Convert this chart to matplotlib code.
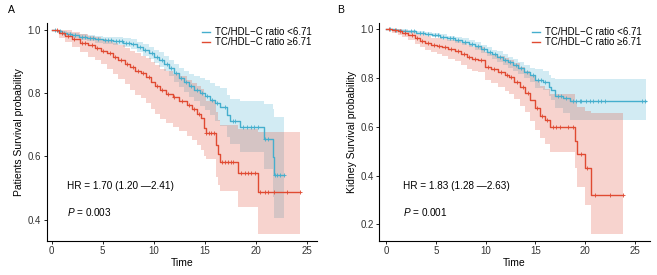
import numpy as np
import matplotlib.pyplot as plt

plt.rcParams['font.family'] = ['Liberation Sans', 'DejaVu Sans']
plt.rcParams['mathtext.fontset'] = 'custom'
plt.rcParams['mathtext.rm'] = 'Liberation Sans'
plt.rcParams['mathtext.it'] = 'Liberation Sans:italic'

BLUE = '#45AECD'
RED = '#E04A32'
LABELS = ('TC/HDL\u2212C ratio <6.71', 'TC/HDL\u2212C ratio \u22656.71')

# ---- panel A, ratio < 6.71 ----
a_low_t = [0, 0.5, 1.0, 1.5, 2.0, 2.7, 3.5, 4.3, 5.0, 6.0, 7.0, 7.8, 8.4, 9.0, 9.5, 10.0, 10.5, 11.0,
           11.5, 12.0, 12.5, 13.0, 13.5, 14.0, 14.5, 15.0, 15.5, 16.0, 16.5, 17.2, 17.5, 18.5, 20.8, 21.7, 21.8]
a_low_s = [1.0, 0.995, 0.99, 0.986, 0.982, 0.977, 0.973, 0.969, 0.966, 0.963, 0.959, 0.954, 0.946, 0.936,
           0.926, 0.915, 0.905, 0.892, 0.878, 0.862, 0.848, 0.835, 0.822, 0.81, 0.80, 0.79, 0.778, 0.767,
           0.757, 0.73, 0.71, 0.692, 0.655, 0.598, 0.542]
a_low_lo = [1.0, 0.99, 0.984, 0.979, 0.974, 0.968, 0.963, 0.958, 0.954, 0.95, 0.945, 0.939, 0.93, 0.918,
            0.907, 0.895, 0.883, 0.868, 0.852, 0.834, 0.818, 0.803, 0.788, 0.774, 0.76, 0.745, 0.73, 0.71,
            0.695, 0.66, 0.64, 0.614, 0.56, 0.47, 0.405]
a_low_up = [1.0, 1.0, 0.996, 0.993, 0.99, 0.986, 0.983, 0.98, 0.978, 0.976, 0.973, 0.969, 0.962, 0.954,
            0.946, 0.936, 0.928, 0.917, 0.905, 0.891, 0.879, 0.868, 0.86, 0.855, 0.848, 0.84, 0.83, 0.822,
            0.815, 0.795, 0.78, 0.775, 0.765, 0.75, 0.725]
a_low_end = 22.8
a_low_cens = [0.3, 0.8, 1.2, 1.8, 2.3, 3.0, 3.3, 3.8, 4.1, 4.6, 5.2, 5.5, 5.8, 6.3, 6.6, 6.9, 7.3, 7.6,
              8.0, 8.7, 9.2, 9.8, 10.3, 10.8, 11.3, 11.7, 12.2, 12.7, 13.2, 13.7, 14.2, 14.7, 15.2, 15.7,
              16.2, 17.0, 17.8, 18.0, 18.8, 19.1, 19.5, 19.8, 20.2, 20.95, 21.2, 21.9, 22.1, 22.4, 22.8]

# ---- panel A, ratio >= 6.71 ----
a_high_t = [0, 0.7, 1.3, 2.0, 2.8, 3.6, 4.3, 4.8, 5.4, 6.0, 6.5, 7.2, 7.7, 8.2, 8.8, 9.3, 9.7, 10.1,
            10.6, 11.2, 11.9, 12.5, 13.3, 13.8, 14.2, 14.6, 14.9, 15.1, 16.1, 16.3, 16.5, 18.3, 20.2]
a_high_s = [1.0, 0.99, 0.981, 0.97, 0.958, 0.95, 0.943, 0.934, 0.925, 0.915, 0.905, 0.893, 0.881, 0.87,
            0.862, 0.85, 0.835, 0.822, 0.808, 0.797, 0.787, 0.775, 0.761, 0.748, 0.734, 0.72, 0.69, 0.673,
            0.635, 0.606, 0.581, 0.547, 0.488]
a_high_lo = [1.0, 0.975, 0.96, 0.945, 0.928, 0.915, 0.903, 0.89, 0.875, 0.86, 0.845, 0.828, 0.81, 0.795,
             0.783, 0.768, 0.75, 0.735, 0.718, 0.705, 0.693, 0.68, 0.664, 0.65, 0.635, 0.62, 0.6, 0.59,
             0.535, 0.51, 0.49, 0.44, 0.353]
a_high_up = [1.0, 1.0, 0.998, 0.993, 0.985, 0.98, 0.976, 0.97, 0.965, 0.958, 0.95, 0.942, 0.933, 0.925,
             0.918, 0.91, 0.898, 0.888, 0.877, 0.868, 0.86, 0.852, 0.842, 0.832, 0.822, 0.812, 0.79, 0.775,
             0.74, 0.715, 0.7, 0.685, 0.675]
a_high_end = 24.3
a_high_cens = [0.5, 1.0, 1.6, 2.2, 3.0, 3.3, 4.0, 4.5, 5.0, 5.7, 6.2, 6.8, 7.4, 8.0, 8.5, 9.0, 9.5, 10.3,
               10.8, 11.4, 12.0, 12.8, 13.5, 14.0, 14.4, 15.15, 15.4, 15.6, 15.9, 16.7, 17.0, 17.3, 17.6,
               17.8, 18.6, 18.9, 19.2, 19.5, 19.9, 20.4, 20.9, 21.2, 21.8, 23.1, 24.3]

# ---- panel B, ratio < 6.71 ----
b_low_t = [0, 0.8, 1.5, 2.2, 3.0, 3.9, 4.6, 5.4, 6.1, 6.9, 7.6, 8.3, 8.9, 9.5, 10.1, 10.6, 11.1, 11.7,
           12.2, 12.8, 13.3, 13.9, 14.5, 15.0, 15.8, 16.4, 16.6, 17.0, 17.8, 18.5]
b_low_s = [1.0, 0.997, 0.994, 0.99, 0.985, 0.98, 0.975, 0.969, 0.962, 0.955, 0.948, 0.94, 0.929, 0.918,
           0.906, 0.896, 0.887, 0.875, 0.864, 0.853, 0.84, 0.826, 0.812, 0.79, 0.784, 0.764, 0.75, 0.727,
           0.718, 0.705]
b_low_lo = [1.0, 0.993, 0.989, 0.984, 0.978, 0.972, 0.966, 0.959, 0.951, 0.942, 0.934, 0.925, 0.913,
            0.901, 0.888, 0.877, 0.867, 0.854, 0.842, 0.83, 0.815, 0.8, 0.784, 0.758, 0.749, 0.725, 0.708,
            0.675, 0.655, 0.626]
b_low_up = [1.0, 1.0, 0.999, 0.996, 0.992, 0.988, 0.984, 0.979, 0.973, 0.968, 0.962, 0.955, 0.946, 0.936,
            0.925, 0.916, 0.908, 0.897, 0.887, 0.877, 0.866, 0.853, 0.841, 0.835, 0.828, 0.81, 0.80, 0.795,
            0.795, 0.794]
b_low_end = 26.1
b_low_cens = [0.4, 1.0, 1.9, 2.5, 2.8, 3.4, 3.7, 4.2, 4.9, 5.2, 5.7, 6.4, 6.7, 7.2, 7.9, 8.6, 9.2, 9.8,
              10.4, 10.9, 11.4, 11.9, 12.5, 13.1, 13.6, 14.2, 14.8, 15.3, 15.6, 16.0, 17.3, 17.6, 18.1,
              18.8, 19.1, 19.5, 19.6, 20.1, 20.5, 20.8, 21.3, 21.6, 22.0, 25.7, 26.0]

# ---- panel B, ratio >= 6.71 ----
b_high_t = [0, 0.6, 1.2, 1.6, 2.2, 2.9, 3.4, 3.9, 4.5, 5.1, 5.6, 6.2, 6.9, 7.5, 8.1, 8.6, 9.2, 9.9, 10.5,
            11.2, 11.9, 12.4, 12.9, 13.5, 14.0, 14.5, 15.0, 15.5, 16.0, 16.5, 19.0, 19.2, 20.0, 20.6]
b_high_s = [1.0, 0.995, 0.99, 0.985, 0.975, 0.963, 0.952, 0.942, 0.935, 0.93, 0.925, 0.918, 0.91, 0.897,
            0.885, 0.878, 0.874, 0.846, 0.836, 0.825, 0.812, 0.802, 0.785, 0.762, 0.74, 0.71, 0.675, 0.645,
            0.627, 0.60, 0.54, 0.49, 0.43, 0.32]
b_high_lo = [1.0, 0.985, 0.977, 0.969, 0.956, 0.94, 0.926, 0.913, 0.904, 0.896, 0.889, 0.879, 0.868,
             0.852, 0.837, 0.828, 0.822, 0.79, 0.777, 0.763, 0.746, 0.733, 0.713, 0.685, 0.66, 0.625, 0.585,
             0.555, 0.53, 0.497, 0.43, 0.354, 0.279, 0.16]
b_high_up = [1.0, 1.0, 1.0, 0.998, 0.992, 0.985, 0.978, 0.97, 0.965, 0.963, 0.96, 0.955, 0.951, 0.942,
             0.933, 0.928, 0.925, 0.905, 0.898, 0.89, 0.88, 0.872, 0.862, 0.846, 0.83, 0.81, 0.79, 0.765,
             0.755, 0.735, 0.7, 0.68, 0.665, 0.655]
b_high_end = 23.8
b_high_cens = [0.3, 0.9, 1.4, 1.9, 2.6, 3.1, 3.6, 4.2, 4.8, 5.3, 5.9, 6.5, 7.2, 7.8, 8.3, 8.9, 9.5, 10.2,
               10.8, 11.5, 12.1, 12.6, 13.2, 13.8, 14.3, 15.2, 15.7, 16.2, 16.8, 17.1, 17.5, 18.3, 18.8,
               19.6, 20.2, 21.0, 22.5, 23.8]


def draw_km(ax, curves, xlim, ylim, yticks, ylabel, hr, p, hr_x, leg_x):
    steps = []
    for (t, s, lo, up, t_end, cens), col in zip(curves, (BLUE, RED)):
        tt = np.append(t, t_end)
        ax.fill_between(tt, np.append(lo, lo[-1]), np.append(up, up[-1]), step='post',
                        color=col, alpha=0.24, lw=0)
        steps.append((tt, np.append(s, s[-1]), t, s, cens, col))
    for (tt, ss, t, s, cens, col), lab in zip(steps, LABELS):
        ax.step(tt, ss, where='post', color=col, lw=1.0, label=lab)
        idx = np.searchsorted(t, cens, side='right') - 1
        ax.plot(cens, np.asarray(s)[idx], ls='none', marker='+', ms=3, mew=0.6, color=col)

    ax.set_xlim(*xlim)
    ax.set_ylim(*ylim)
    ax.set_xticks([0, 5, 10, 15, 20, 25])
    ax.set_yticks(yticks)
    ax.set_yticklabels(['%.1f' % v for v in yticks])
    for side in ('top', 'right'):
        ax.spines[side].set_visible(False)
    for side in ('left', 'bottom'):
        ax.spines[side].set_linewidth(0.8)
    ax.tick_params(direction='out', length=2.5, width=0.6, labelsize=7,
                   labelcolor='#333333', pad=1.5)
    ax.set_xlabel('Time', fontsize=7.5, labelpad=1.5)
    ax.set_ylabel(ylabel, fontsize=7.5, labelpad=2.5)

    ax.text(hr_x, 0.251, hr, transform=ax.transAxes, fontsize=7.2, va='center', ha='left')
    ax.text(hr_x, 0.133, p, transform=ax.transAxes, fontsize=7.2, va='center', ha='left')

    ax.legend(loc='upper left', bbox_to_anchor=(leg_x, 0.98), frameon=False,
              fontsize=7, handlelength=0.8, handletextpad=0.5, labelspacing=0,
              borderpad=0, borderaxespad=0)


fig = plt.figure(figsize=(6.57, 2.75), dpi=100)
ax_a = fig.add_axes([0.0711, 0.1247, 0.4114, 0.7928])
ax_b = fig.add_axes([0.5773, 0.1247, 0.4120, 0.7928])

draw_km(ax_a,
        [(a_low_t, a_low_s, a_low_lo, a_low_up, a_low_end, a_low_cens),
         (a_high_t, a_high_s, a_high_lo, a_high_up, a_high_end, a_high_cens)],
        (-0.47, 26.0), (0.333, 1.022), [0.4, 0.6, 0.8, 1.0],
        'Patients Survival probability',
        'HR = 1.70 (1.20 \u20142.41)', r'$\it{P}$ = 0.003', 0.075, 0.575)

draw_km(ax_b,
        [(b_low_t, b_low_s, b_low_lo, b_low_up, b_low_end, b_low_cens),
         (b_high_t, b_high_s, b_high_lo, b_high_up, b_high_end, b_high_cens)],
        (-0.67, 26.5), (0.133, 1.026), [0.2, 0.4, 0.6, 0.8, 1.0],
        'Kidney Survival probability',
        'HR = 1.83 (1.28 \u20142.63)', r'$\it{P}$ = 0.001', 0.089, 0.565)

fig.text(0.012, 0.962, 'A', fontsize=7.5, va='center')
fig.text(0.513, 0.962, 'B', fontsize=7.5, va='center')

fig.savefig('out.png', dpi=100)
